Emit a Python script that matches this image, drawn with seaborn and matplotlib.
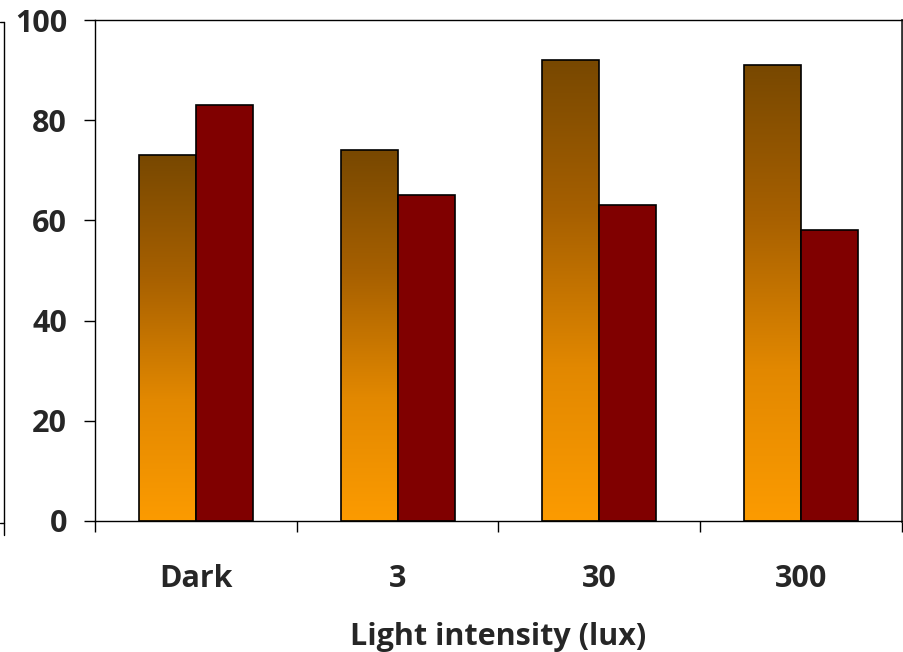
import numpy as np
import pandas as pd
import matplotlib
matplotlib.use("Agg")
import matplotlib.pyplot as plt
from matplotlib.colors import LinearSegmentedColormap
from matplotlib.lines import Line2D
from matplotlib.ticker import FixedLocator
import seaborn as sns

# Data
categories = ["Dark", "3", "30", "300"]
series_a = [73, 74, 92, 91]
series_b = [83, 65, 63, 58]
y_ticks = [0, 20, 40, 60, 80, 100]
x_title = "Light intensity (lux)"

df = pd.DataFrame({
    "Light": categories * 2,
    "value": series_a + series_b,
    "series": ["A"] * len(categories) + ["B"] * len(categories),
})

sns.set_theme(style="white")
plt.rcParams["font.family"] = ["Open Sans", "DejaVu Sans"]

fig = plt.figure(figsize=(9.04, 6.52), dpi=100)
ax = fig.add_axes([95 / 904, 1 - 521 / 652, (902 - 95) / 904, (521 - 20) / 652])

sns.barplot(data=df, x="Light", y="value", hue="series",
            palette=["#F99500", "#800000"], edgecolor="black", linewidth=1.2,
            width=0.565, legend=False, ax=ax, saturation=1)

# Vertical orange-to-brown gradient for the first series
grad = LinearSegmentedColormap.from_list("amber", ["#FC9B00", "#E28800", "#A76000", "#784800"])
img = np.linspace(0, 1, 256).reshape(-1, 1)
for patch in ax.containers[0]:
    x0, y0 = patch.get_x(), patch.get_y()
    w, h = patch.get_width(), patch.get_height()
    im = ax.imshow(img, cmap=grad, origin="lower", aspect="auto",
                   extent=[x0, x0 + w, y0, y0 + h], zorder=patch.get_zorder() - 0.05,
                   interpolation="bilinear")
    im.set_clip_path(patch)
    patch.set_facecolor("none")

ax.set_xlim(-0.5, len(categories) - 0.5)
ax.set_ylim(0, 100)
ax.set_yticks(y_ticks)
ax.set_yticklabels([str(t) for t in y_ticks], fontsize=22, fontweight="bold")
ax.set_xticks(range(len(categories)))
ax.set_xticklabels(categories, fontsize=22, fontweight="bold")
ax.xaxis.set_minor_locator(FixedLocator(np.arange(-0.5, len(categories), 1.0)))
ax.tick_params(axis="x", which="major", length=0, pad=31)
ax.tick_params(axis="x", which="minor", length=8, width=1, color="black", direction="out", bottom=True)
ax.tick_params(axis="y", which="major", length=8, width=1, color="black", direction="out", left=True, pad=12)
ax.set_xlabel(x_title, fontsize=22, fontweight="bold", labelpad=20)
ax.set_ylabel("")

for side in ["left", "bottom", "top"]:
    ax.spines[side].set_color("black")
    ax.spines[side].set_linewidth(1.0)
ax.spines["right"].set_color("#333333")
ax.spines["right"].set_linewidth(2.0)

# Bracket line at the left edge of the figure
fx = 4 / 904
fig.add_artist(Line2D([fx, fx], [1 - 22 / 652, 1 - 535 / 652], transform=fig.transFigure,
                      color="black", lw=1.0))
fig.add_artist(Line2D([0, fx], [1 - 22 / 652, 1 - 22 / 652], transform=fig.transFigure,
                      color="black", lw=1.0))
fig.add_artist(Line2D([0, fx], [1 - 523 / 652, 1 - 523 / 652], transform=fig.transFigure,
                      color="black", lw=1.0))

fig.savefig("out.png", dpi=100)
